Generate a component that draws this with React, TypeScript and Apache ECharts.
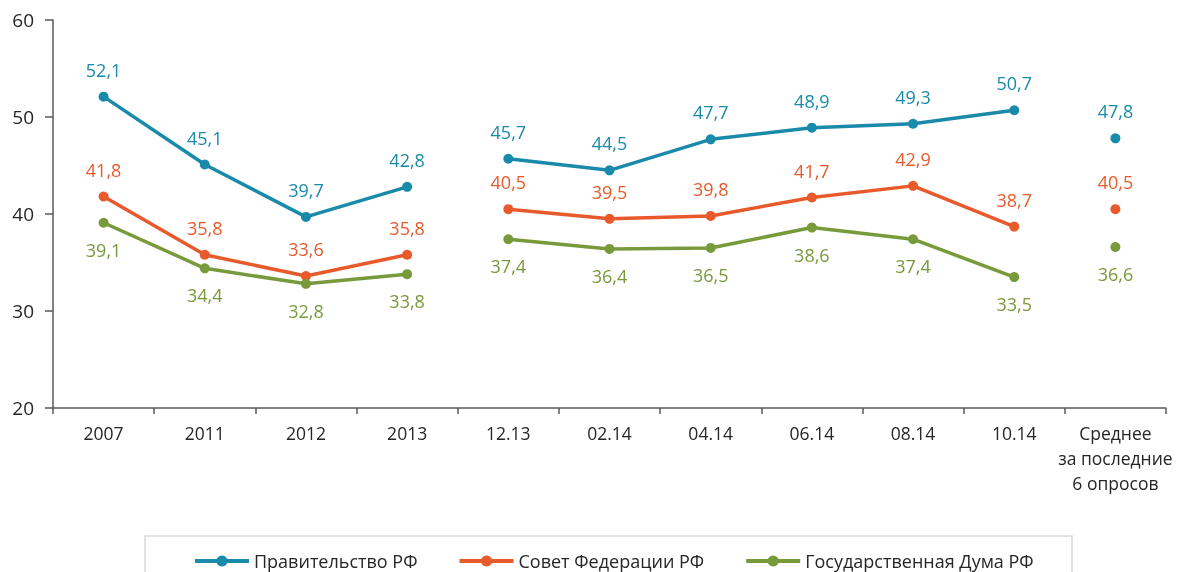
import React, { useEffect, useRef } from "react";
import * as echarts from "echarts";

const categories = ["2007", "2011", "2012", "2013", "12.13", "02.14", "04.14", "06.14", "08.14", "10.14", "Среднее\nза последние\n6 опросов"];
const government = [52.1, 45.1, 39.7, 42.8, 45.7, 44.5, 47.7, 48.9, 49.3, 50.7, 47.8];
const federationCouncil = [41.8, 35.8, 33.6, 35.8, 40.5, 39.5, 39.8, 41.7, 42.9, 38.7, 40.5];
const stateDuma = [39.1, 34.4, 32.8, 33.8, 37.4, 36.4, 36.5, 38.6, 37.4, 33.5, 36.6];
const segments = [[0, 3], [4, 9], [10, 10]];
const yTicks = { min: 20, max: 60, interval: 10 };

const FONT = "Open Sans";

export default function App() {
  const ref = useRef<HTMLDivElement>(null);
  useEffect(() => {
    if (!ref.current) return;
    const chart = echarts.init(ref.current, null, { renderer: "svg" });
    const defs = [
      { name: "Правительство РФ", data: government, color: "#1a8aaa", pos: "top" },
      { name: "Совет Федерации РФ", data: federationCouncil, color: "#e85a2b", pos: "top" },
      { name: "Государственная Дума РФ", data: stateDuma, color: "#789a3b", pos: "bottom" },
    ];
    const series: any[] = [];
    defs.forEach((d) => {
      segments.forEach(([a, b]) => {
        series.push({
          type: "line",
          name: d.name,
          data: d.data.map((v, i) => (i >= a && i <= b ? v : null)),
          connectNulls: false,
          symbol: "circle",
          symbolSize: 10,
          lineStyle: { width: 3.5, color: d.color },
          itemStyle: { color: d.color },
          color: d.color,
          label: {
            show: true,
            position: d.pos,
            distance: 13,
            color: d.color,
            fontFamily: FONT,
            fontSize: 18,
            formatter: (p: any) => String(p.value).replace(".", ","),
          },
        });
      });
    });
    chart.setOption({
      animation: false,
      grid: { left: 53, right: 12, top: 20, bottom: 164 },
      xAxis: {
        type: "category",
        data: categories,
        boundaryGap: true,
        axisLine: { lineStyle: { color: "#595959", width: 1.5 } },
        axisTick: { show: true, interval: 0, length: 6, lineStyle: { color: "#595959", width: 1.5 } },
        axisLabel: { interval: 0, color: "#262626", fontFamily: FONT, fontSize: 17.5, lineHeight: 25, margin: 12 },
      },
      yAxis: {
        type: "value",
        min: yTicks.min,
        max: yTicks.max,
        interval: yTicks.interval,
        splitLine: { show: false },
        axisLine: { show: true, lineStyle: { color: "#595959", width: 1.5 } },
        axisTick: { show: true, length: 8, lineStyle: { color: "#595959", width: 1.5 } },
        axisLabel: { color: "#262626", fontFamily: FONT, fontSize: 19, margin: 19 },
      },
      legend: {
        data: defs.map((d) => d.name),
        left: 188,
        top: 547,
        itemWidth: 54,
        itemHeight: 14,
        itemGap: 40,
        lineStyle: { width: 4 },
        textStyle: { color: "#262626", fontFamily: FONT, fontSize: 18 },
      },
      graphic: [
        {
          type: "rect",
          shape: { x: 145, y: 536, width: 927, height: 60 },
          style: { fill: "none", stroke: "#d9d9d9", lineWidth: 1.5 },
          silent: true,
        },
      ],
      series,
    });
    return () => chart.dispose();
  }, []);
  return <div ref={ref} style={{ position: "fixed", left: 0, top: 0, width: 1178, height: 572 }} />;
}
